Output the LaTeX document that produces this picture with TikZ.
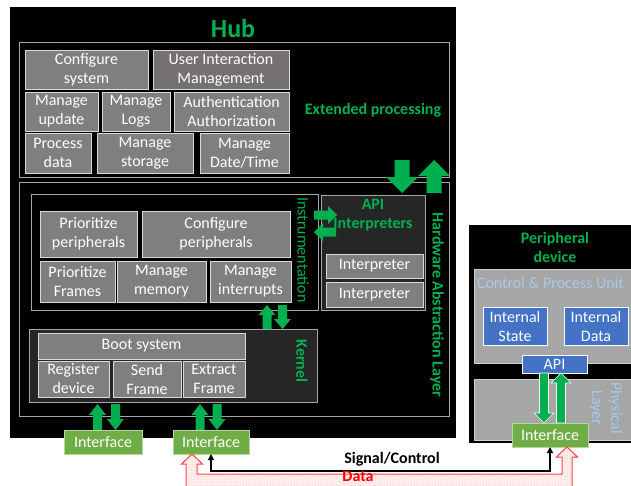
\documentclass[tikz,border=0pt]{standalone}
\usepackage{fontspec}
\setmainfont{Carlito}
\usetikzlibrary{arrows.meta,patterns}
\definecolor{hubgreen}{HTML}{00B050}
\definecolor{boxgray}{HTML}{7F7F7F}
\definecolor{uigray}{HTML}{767171}
\definecolor{boxline}{HTML}{D9D9D9}
\definecolor{contline}{HTML}{A6A6A6}
\definecolor{darkfill}{HTML}{262626}
\definecolor{ifgreen}{HTML}{70AD47}
\definecolor{ifline}{HTML}{B5D99C}
\definecolor{pgray}{HTML}{A6A6A6}
\definecolor{pline}{HTML}{D0D0D0}
\definecolor{blueb}{HTML}{4472C4}
\definecolor{ltblue}{HTML}{A7C9EA}
\newcommand\vblock[7][]{%
  \pgfmathsetmacro\blkS{(#3>#4)?1:-1}%
  \path[#1] ({#2-#5},#3) -- ({#2-#5},{#4+\blkS*#7}) -- ({#2-#6},{#4+\blkS*#7}) -- (#2,#4) -- ({#2+#6},{#4+\blkS*#7}) -- ({#2+#5},{#4+\blkS*#7}) -- ({#2+#5},#3) -- cycle;}
\newcommand\hblock[7][]{%
  \pgfmathsetmacro\blkS{(#3>#4)?1:-1}%
  \path[#1] (#3,{#2-#5}) -- ({#4+\blkS*#7},{#2-#5}) -- ({#4+\blkS*#7},{#2-#6}) -- (#4,#2) -- ({#4+\blkS*#7},{#2+#6}) -- ({#4+\blkS*#7},{#2+#5}) -- (#3,{#2+#5}) -- cycle;}
\begin{document}
\begin{tikzpicture}[x=1pt,y=-1pt,
  font=\fontsize{16}{19}\selectfont,
  every node/.style={inner sep=0pt, outer sep=0pt},
  cont/.style={draw=contline, line width=1pt},
  gbox/.style={draw=boxline, fill=boxgray, text=white, line width=1pt, align=center},
  iface/.style={draw=ifline, fill=ifgreen, text=white, line width=1pt, align=center},
  bbox/.style={draw=white, fill=blueb, text=white, line width=1pt, align=center},
  pbox/.style={draw=pline, fill=pgray, line width=1pt},
  glab/.style={text=hubgreen, font=\bfseries\fontsize{16}{19}\selectfont, align=center},
  garr/.style={fill=hubgreen},
  parr/.style={fill=hubgreen, draw=white, line width=0.6pt},
  sig/.style={line width=1.3pt, {Triangle[width=6pt,length=6pt]}-{Triangle[width=6pt,length=6pt]}}]
\useasboundingbox (0,0) rectangle (631,485);
\fill[white] (0,0) rectangle (631,485);
% ---------------- Hub ----------------
\node[fill=black, minimum width=446, minimum height=431] (hub) at (233,222.5) {};
\node[text=hubgreen, font=\bfseries\fontsize{26}{30}\selectfont] (hubt) at (233,28) {Hub};
\node[cont, minimum width=430, minimum height=135] (ext) at (234,109.5) {};
\node[gbox, minimum width=123, minimum height=39] (cfgsys) at (86.5,69.5) {Configure\\system};
\node[gbox, fill=uigray, minimum width=136, minimum height=39] (uim) at (221,69.5) {User Interaction\\Management};
\node[gbox, minimum width=73, minimum height=39] (mupd) at (61.5,111.5) {Manage\\update};
\node[gbox, minimum width=68, minimum height=39] (mlogs) at (136,111.5) {Manage\\Logs};
\node[gbox, minimum width=115, minimum height=39] (auth) at (231.5,111.5) {Authentication\\Authorization};
\node[gbox, minimum width=66, minimum height=40] (pdata) at (58,153) {Process\\data};
\node[gbox, minimum width=96, minimum height=40] (mstor) at (145,153) {Manage\\storage};
\node[gbox, minimum width=89, minimum height=40] (mdate) at (244.5,153) {Manage\\Date/Time};
\node[glab] (extl) at (373,110) {Extended processing};
% HAL
\node[cont, minimum width=430, minimum height=234] (hal) at (234,299) {};
\node[cont, fill=black, minimum width=287, minimum height=116] (instr) at (174.5,252) {};
\node[gbox, minimum width=97, minimum height=46] (prip) at (88.5,234) {Prioritize\\peripherals};
\node[gbox, minimum width=148, minimum height=46] (cfgp) at (216,234) {Configure\\peripherals};
\node[gbox, minimum width=75, minimum height=41] (prif) at (77.5,281.5) {Prioritize\\Frames};
\node[gbox, minimum width=89, minimum height=41] (mmem) at (161.5,281.5) {Manage\\memory};
\node[gbox, minimum width=81, minimum height=41] (mint) at (250.5,281.5) {Manage\\interrupts};
\node[text=hubgreen, rotate=-90] (instrl) at (303,250) {Instrumentation};
\node[cont, fill=darkfill, minimum width=104, minimum height=115] (api) at (373,252.5) {};
\node[glab] (apil) at (373,215) {API\\Interpreters};
\node[gbox, minimum width=97, minimum height=24] (int1) at (374.5,266) {Interpreter};
\node[gbox, minimum width=97, minimum height=25] (int2) at (374.5,294.5) {Interpreter};
\node[glab, rotate=-90] (hall) at (437,305) {Hardware Abstraction Layer};
\node[cont, fill=darkfill, minimum width=288, minimum height=73] (kern) at (173,365.5) {};
\node[gbox, minimum width=207, minimum height=26] (boot) at (141.5,346) {Boot system};
\node[gbox, minimum width=71, minimum height=36] (reg) at (73.5,379) {Register\\device};
\node[gbox, minimum width=68, minimum height=36] (send) at (147,379) {Send\\Frame};
\node[gbox, minimum width=62, minimum height=36] (extr) at (214,379) {Extract\\Frame};
\node[glab, rotate=-90] (kernl) at (302,361) {Kernel};
% green block arrows in hub
\vblock[garr]{402}{160}{193}{7.5}{16}{16}
\vblock[garr]{434}{193}{160}{7.5}{16}{16}
\hblock[garr]{215}{314}{337}{4.5}{9}{9}
\hblock[garr]{232}{336}{314}{4.5}{9}{9}
\vblock[garr]{267}{329}{305}{4.5}{8.5}{10}
\vblock[garr]{282.5}{305}{329}{4.5}{8.5}{10}
\vblock[garr]{97.5}{430}{404}{4.5}{8.5}{11}
\vblock[garr]{115.5}{404}{430}{4.5}{8.5}{11}
\vblock[garr]{200}{430}{404}{4.5}{8.5}{11}
\vblock[garr]{217}{404}{430}{4.5}{8.5}{11}
\node[iface, minimum width=78, minimum height=24] (if1) at (103,442) {Interface};
\node[iface, minimum width=76, minimum height=24] (if2) at (211,442) {Interface};
% ---------------- Peripheral ----------------
\node[fill=black, minimum width=176, minimum height=218] (per) at (557,334) {};
\node[glab] (perl) at (555,247.5) {Peripheral\\device};
\node[pbox, minimum width=171, minimum height=94] (cpu) at (559.5,316) {};
\node[text=ltblue, anchor=west] (cpul) at (477,283) {Control \& Process Unit};
\node[bbox, minimum width=64, minimum height=38] (ist) at (515,326) {Internal\\State};
\node[bbox, minimum width=64, minimum height=38] (idt) at (596,326) {Internal\\Data};
\node[pbox, minimum width=171, minimum height=61] (phys) at (559.5,409.5) {};
\node[text=ltblue, rotate=-90, align=center] (physl) at (606,408) {Physical\\Layer};
\node[bbox, minimum width=65, minimum height=18] (papi) at (554.5,364) {API};
\vblock[parr]{544}{373}{423}{4.5}{10}{10}
\vblock[parr]{561}{423}{373}{4.5}{10}{10}
\node[iface, minimum width=76, minimum height=24] (if3) at (550,435) {Interface};
% ---------------- Data / Signal ----------------
\path[fill=red!6, draw=red!75, line width=1pt, postaction={pattern=dots, pattern color=red!35}]
  (192,454) -- (202.5,464) -- (197,464) -- (197,474) -- (562,474) -- (562,457) -- (556.5,457)
  -- (567,447) -- (577.5,457) -- (572,457) -- (572,492) -- (186,492) -- (186,464) -- (181.5,464) -- cycle;
\coordinate (sigy) at (0,471);
\draw[sig] (if2.south) -- (if2.south |- sigy) -| (if3.south);
\node[font=\bfseries\fontsize{16}{19}\selectfont] (sigl) at (392,459) {Signal/Control};
\node[text=red, font=\bfseries\fontsize{16}{19}\selectfont] (datal) at (358,476) {Data};
\end{tikzpicture}
\end{document}
